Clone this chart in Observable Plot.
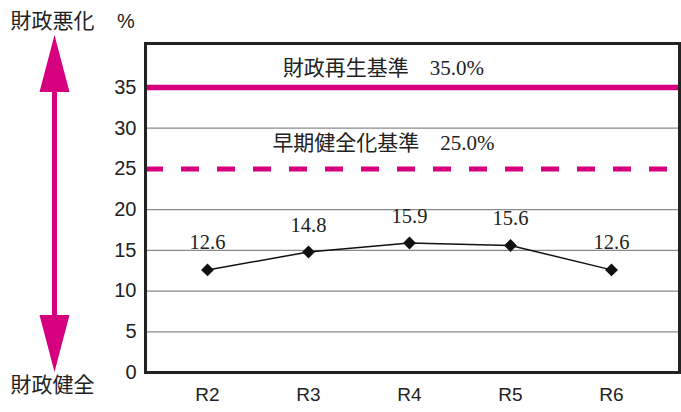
<!DOCTYPE html>
<html><head><meta charset="utf-8">
<script src="https://cdn.jsdelivr.net/npm/d3@7"></script>
<script src="https://cdn.jsdelivr.net/npm/@observablehq/plot@0.6"></script>
<style>body{margin:0;background:#fff}</style>
</head><body><div id="chart"></div>
<script>
const years = ["R2", "R3", "R4", "R5", "R6"];
const ratios = [12.6, 14.8, 15.9, 15.6, 12.6];
const yTicks = [0, 5, 10, 15, 20, 25, 30, 35];
const gridValues = [5, 10, 15, 20, 30];
const rebuildLevel = 35.0;
const earlyLevel = 25.0;
const rebuildLabel = "財政再生基準　35.0%";
const earlyLabel = "早期健全化基準　25.0%";
const unitLabel = "%";
const worseLabel = "財政悪化";
const healthyLabel = "財政健全";

const data = years.map((y, i) => ({year: y, value: ratios[i]}));
const magenta = "#d6007f";
const serif = "'Liberation Serif', 'Noto Sans CJK JP', serif";
const sans = "'Liberation Sans', 'Noto Sans CJK JP', sans-serif";

const chart = Plot.plot({
  width: 681, height: 412,
  marginLeft: 145, marginRight: 2, marginTop: 43, marginBottom: 40,
  style: {fontFamily: sans, background: "#fff"},
  x: {type: "point", domain: years, padding: 0.62, align: 0.475, label: null},
  y: {domain: [0, 40.4], label: null},
  marks: [
    Plot.ruleY(gridValues, {stroke: "#8a8a8a", strokeWidth: 1.3}),
    Plot.ruleY([rebuildLevel], {stroke: magenta, strokeWidth: 5.5}),
    Plot.ruleY([earlyLevel], {stroke: magenta, strokeWidth: 5, strokeDasharray: "18,18"}),
    Plot.text([rebuildLabel], {y: [rebuildLevel], text: d => d, frameAnchor: "middle", dx: -29, dy: -19, fontSize: 21, fontFamily: serif, fill: "#222"}),
    Plot.text([earlyLabel], {y: [earlyLevel], text: d => d, frameAnchor: "middle", dx: -29, dy: -26, fontSize: 21, fontFamily: serif, fill: "#222"}),
    Plot.line(data, {x: "year", y: "value", stroke: "#111", strokeWidth: 1.5}),
    Plot.dot(data, {x: "year", y: "value", symbol: "diamond2", r: 5.8, fill: "#111", stroke: "none"}),
    Plot.text(data, {x: "year", y: "value", text: d => d.value.toFixed(1), dy: -27, fontSize: 20.5, fontFamily: serif, fill: "#222"}),
    Plot.axisY(yTicks, {tickSize: 0, tickPadding: 9, fontSize: 20, fill: "#222", label: null}),
    Plot.axisX({tickSize: 0, tickPadding: 15, fontSize: 19, fill: "#222", label: null}),
    Plot.frame({stroke: "#222", strokeWidth: 3})
  ]
});
document.getElementById("chart").appendChild(chart);

// decorations outside the plot area
const svg = d3.select(chart);
const g = svg.append("g");
g.append("line").attr("x1", 54.5).attr("x2", 54.5).attr("y1", 85).attr("y2", 320)
  .attr("stroke", magenta).attr("stroke-width", 5);
g.append("path").attr("d", "M54.5,35 L39.5,92 L69.5,92 Z").attr("fill", magenta);
g.append("path").attr("d", "M54.5,372 L39.5,315 L69.5,315 Z").attr("fill", magenta);
g.append("text").text(worseLabel).attr("x", 52.5).attr("y", 28).attr("text-anchor", "middle")
  .attr("font-size", 21).attr("font-family", "'Noto Sans CJK JP', sans-serif").attr("fill", "#222");
g.append("text").text(healthyLabel).attr("x", 52.5).attr("y", 392).attr("text-anchor", "middle")
  .attr("font-size", 21).attr("font-family", "'Noto Sans CJK JP', sans-serif").attr("fill", "#222");
g.append("text").text(unitLabel).attr("x", 126).attr("y", 28).attr("text-anchor", "middle")
  .attr("font-size", 20).attr("font-family", sans).attr("fill", "#222");
</script></body></html>
